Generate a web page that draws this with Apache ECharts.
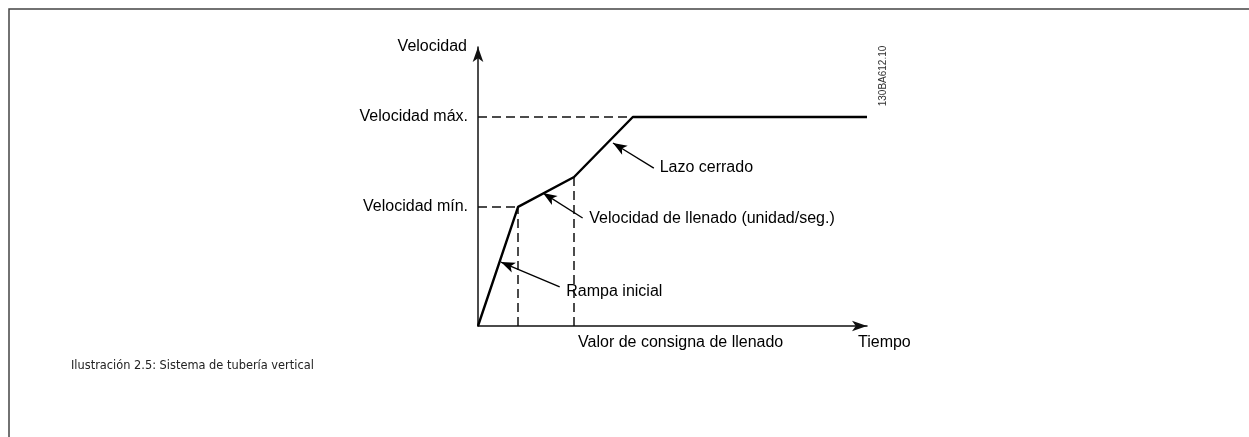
<!DOCTYPE html>
<html>
<head>
<meta charset="utf-8">
<script src="https://cdn.jsdelivr.net/npm/echarts@6/dist/echarts.min.js"></script>
<style>
html, body { margin: 0; padding: 0; background: #fff; }
#chart { width: 1249px; height: 437px; }
</style>
</head>
<body>
<div id="chart"></div>
<script>
// curva de velocidad (tiempo, velocidad) en unidades relativas 0..100
var tiempo = [0, 10.3, 24.7, 39.8, 100];
var velocidad = [0, 42.7, 53.4, 74.9, 74.9];

var velMin = 42.7;
var velMax = 74.9;
var consigna = 24.7; // valor de consigna de llenado

var yTickLabels = { '42.7': 'Velocidad mín.', '74.9': 'Velocidad máx.' };
var xTickLabels = { '24.7': 'Valor de consigna de llenado' };

// flechas de anotación: [cola, punta]
var notaCola = [[21.0, 14.0], [26.9, 38.7], [45.2, 56.6]];
var notaPunta = [[5.9, 22.9], [16.7, 47.7], [34.7, 65.6]];
var notaTexto = ['Rampa inicial', 'Velocidad de llenado (unidad/seg.)', 'Lazo cerrado'];
var notaPos = [[22.7, 12.2], [28.6, 38.5], [46.7, 56.6]];

var dom = document.getElementById('chart');
var myChart = echarts.init(dom);

var curva = tiempo.map(function (t, i) { return [t, velocidad[i]]; });
var guias = [
    [[0, velMax], [tiempo[3], velMax]],
    [[0, velMin], [tiempo[1], velMin]],
    [[tiempo[1], 0], [tiempo[1], velMin]],
    [[consigna, 0], [consigna, velocidad[2]]]
];
var flechas = notaCola.map(function (c, i) {
    return [{ coord: c, symbol: 'none' }, { coord: notaPunta[i], symbol: 'arrow' }];
});
var textos = notaPos.map(function (p, i) { return { value: p, name: notaTexto[i] }; });

var font = 'Liberation Sans, Arial, sans-serif';

var option = {
    animation: false,
    grid: { left: 478, right: 382, top: 47, bottom: 111 },
    xAxis: {
        type: 'value',
        min: 0,
        max: 100,
        name: 'Tiempo',
        nameLocation: 'end',
        nameGap: -9,
        nameTextStyle: { fontFamily: font, fontSize: 16, color: '#000', align: 'left', verticalAlign: 'top', padding: [9, 0, 0, 0] },
        axisLine: { lineStyle: { color: '#111', width: 1.5 }, symbol: ['none', 'arrow'], symbolSize: [8, 15] },
        axisTick: { show: false },
        splitLine: { show: false },
        axisLabel: {
            customValues: [consigna],
            formatter: function (v) { return xTickLabels[String(v)] || ''; },
            fontFamily: font, fontSize: 16, color: '#000',
            align: 'left', margin: 9, padding: [0, 0, 0, 4]
        }
    },
    yAxis: {
        type: 'value',
        min: 0,
        max: 100,
        name: 'Velocidad',
        nameLocation: 'end',
        nameGap: 0,
        nameTextStyle: { fontFamily: font, fontSize: 16, color: '#000', align: 'right', verticalAlign: 'middle', padding: [0, 11, 0, 0] },
        axisLine: { lineStyle: { color: '#111', width: 1.5 }, symbol: ['none', 'arrow'], symbolSize: [8, 15] },
        axisTick: { show: false },
        splitLine: { show: false },
        axisLabel: {
            customValues: [velMin, velMax],
            formatter: function (v) { return yTickLabels[String(v)] || ''; },
            fontFamily: font, fontSize: 16, color: '#000', margin: 10
        }
    },
    series: [
        {
            name: 'guias',
            type: 'line',
            data: [],
            silent: true,
            markLine: {
                silent: true,
                symbol: 'none',
                label: { show: false },
                lineStyle: { color: '#111', width: 1.5, type: [9, 5] },
                data: guias.map(function (g) { return [{ coord: g[0] }, { coord: g[1] }]; })
            }
        },
        {
            name: 'curva',
            type: 'line',
            data: curva,
            symbol: 'none',
            lineStyle: { color: '#000', width: 2.4 },
            z: 5
        },
        {
            name: 'notas',
            type: 'scatter',
            data: textos,
            symbolSize: 0,
            itemStyle: { opacity: 0 },
            label: {
                show: true,
                position: 'right',
                distance: 0,
                formatter: '{b}',
                opacity: 1,
                fontFamily: font, fontSize: 16, color: '#000'
            },
            markLine: {
                silent: true,
                symbolSize: [8, 14],
                label: { show: false },
                lineStyle: { color: '#000', width: 1.3, type: 'solid', opacity: 1 },
                data: flechas
            }
        }
    ],
    graphic: [
        {
            type: 'polyline',
            shape: { points: [[9, 437], [9, 9], [1249, 9]] },
            style: { stroke: '#444', lineWidth: 1.5, fill: null }
        },
        {
            type: 'text',
            x: 883, y: 76,
            rotation: Math.PI / 2,
            style: { text: '130BA612.10', fontFamily: font, fontSize: 10, fill: '#333', align: 'center', verticalAlign: 'middle' }
        },
        {
            type: 'text',
            x: 71, y: 366,
            style: { text: 'Ilustración 2.5: Sistema de tubería vertical', fontFamily: 'DejaVu Sans', fontSize: 11.4, fill: '#222', verticalAlign: 'middle' }
        }
    ]
};

myChart.setOption(option);
</script>
</body>
</html>
